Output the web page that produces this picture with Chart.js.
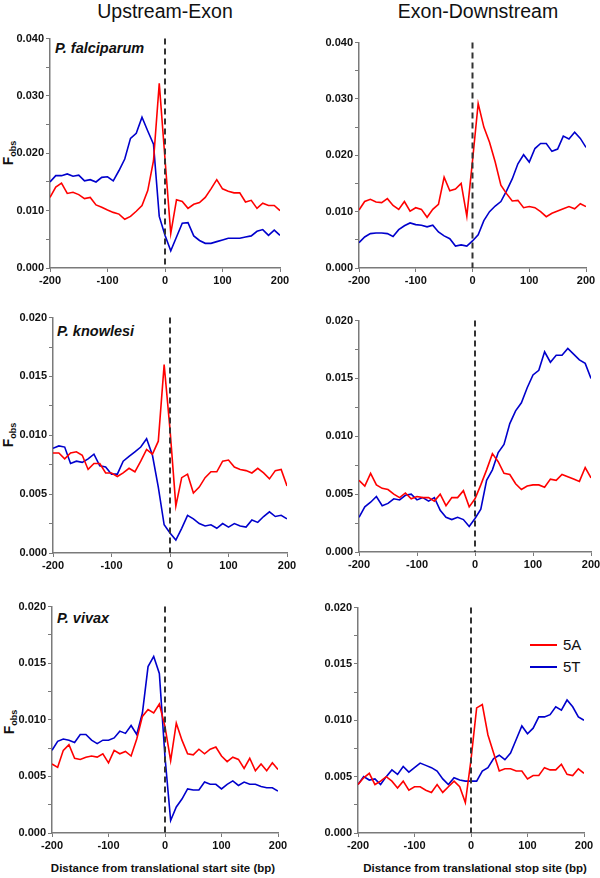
<!DOCTYPE html>
<html>
<head>
<meta charset="utf-8">
<script src="https://cdn.jsdelivr.net/npm/chart.js@4"></script>
<style>
  body { margin: 0; background: #fff; font-family: "Liberation Sans", Arial, sans-serif; }
  #wrap { position: relative; width: 600px; height: 878px; overflow: hidden; }
  canvas { position: absolute; }
  .t { position: absolute; white-space: nowrap; color: #111; }
  .title { font-size: 19.5px; transform: translateX(-50%); }
  .sp { font-size: 14.5px; font-weight: bold; font-style: italic; }
  .xl { font-size: 11.5px; font-weight: bold; transform: translateX(-50%); }
  .fobs { font-size: 14px; font-weight: bold; line-height: 12px; transform: translate(-50%, -50%) rotate(-90deg); }
  .fobs sub { font-size: 9px; vertical-align: -3px; line-height: 0; }
  .lg { font-size: 15px; }
  .lgline { position: absolute; height: 2px; width: 27px; }
</style>
</head>
<body>
<div id="wrap">
  <div class="t title" style="left:165px; top:0px;">Upstream-Exon</div>
  <div class="t title" style="left:478px; top:0px;">Exon-Downstream</div>

  <div class="t sp" style="left:55px; top:40px;">P. falciparum</div>
  <div class="t sp" style="left:57px; top:323px;">P. knowlesi</div>
  <div class="t sp" style="left:57px; top:610px;">P. vivax</div>

  <div class="t fobs" style="left:8px; top:153px;">F<sub>obs</sub></div>
  <div class="t fobs" style="left:8px; top:435px;">F<sub>obs</sub></div>
  <div class="t fobs" style="left:9px; top:722px;">F<sub>obs</sub></div>

  <div class="t xl" style="left:163px; top:862px;">Distance from translational start site (bp)</div>
  <div class="t xl" style="left:475px; top:862px;">Distance from translational stop site (bp)</div>

  <div class="lgline" style="left:530px; top:644px; background:#ff0000;"></div>
  <div class="t lg" style="left:563px; top:636px;">5A</div>
  <div class="lgline" style="left:530px; top:666px; background:#0000cc;"></div>
  <div class="t lg" style="left:563px; top:658px;">5T</div>

  <canvas id="c1"></canvas>
  <canvas id="c2"></canvas>
  <canvas id="c3"></canvas>
  <canvas id="c4"></canvas>
  <canvas id="c5"></canvas>
  <canvas id="c6"></canvas>
</div>

<script>
// positions (bp) -200..200 every 10
const positions = [-200,-190,-180,-170,-160,-150,-140,-130,-120,-110,-100,-90,-80,-70,-60,-50,-40,-30,-20,-10,
  0,10,20,30,40,50,60,70,80,90,100,110,120,130,140,150,160,170,180,190,200];

// P. falciparum, upstream-exon
const falcUp5A = [0.0123,0.0141,0.0148,0.0130,0.0132,0.0128,0.0121,0.0123,0.0110,0.0106,0.0101,0.0097,0.0094,0.0085,0.0090,0.0099,0.0109,0.0135,0.0187,0.0322,
  0.0190,0.0060,0.0119,0.0116,0.0104,0.0111,0.0114,0.0123,0.0138,0.0154,0.0138,0.0134,0.0131,0.0131,0.0115,0.0118,0.0104,0.0113,0.0109,0.0109,0.0100];
const falcUp5T = [0.0150,0.0161,0.0161,0.0164,0.0160,0.0162,0.0152,0.0154,0.0150,0.0158,0.0159,0.0152,0.0170,0.0190,0.0226,0.0235,0.0263,0.0239,0.0216,0.0090,
  0.0057,0.0030,0.0054,0.0078,0.0079,0.0056,0.0048,0.0043,0.0043,0.0046,0.0049,0.0052,0.0052,0.0052,0.0054,0.0056,0.0064,0.0067,0.0057,0.0066,0.0057];
// P. falciparum, exon-downstream
const falcDown5A = [0.0103,0.0118,0.0122,0.0117,0.0116,0.0123,0.0111,0.0104,0.0118,0.0101,0.0107,0.0104,0.0090,0.0104,0.0113,0.0161,0.0137,0.0140,0.0150,0.0092,
  0.0190,0.0292,0.0250,0.0223,0.0188,0.0147,0.0132,0.0119,0.0120,0.0107,0.0109,0.0107,0.0100,0.0091,0.0097,0.0101,0.0105,0.0109,0.0105,0.0114,0.0109];
const falcDown5T = [0.0045,0.0055,0.0061,0.0062,0.0062,0.0061,0.0056,0.0068,0.0075,0.0080,0.0077,0.0076,0.0073,0.0076,0.0064,0.0057,0.0052,0.0039,0.0041,0.0039,
  0.0048,0.0059,0.0084,0.0100,0.0110,0.0118,0.0137,0.0158,0.0185,0.0201,0.0188,0.0212,0.0221,0.0221,0.0207,0.0211,0.0234,0.0229,0.0241,0.0230,0.0214];

// P. knowlesi, upstream-exon
const knowUp5A = [0.0085,0.0085,0.0080,0.0085,0.0086,0.0083,0.0071,0.0076,0.0076,0.0068,0.0068,0.0065,0.0068,0.0072,0.0069,0.0078,0.0088,0.0084,0.0095,0.0160,
  0.0105,0.0040,0.0064,0.0067,0.0051,0.0056,0.0064,0.0069,0.0069,0.0078,0.0079,0.0073,0.0071,0.0070,0.0068,0.0072,0.0068,0.0063,0.0070,0.0071,0.0057];
const knowUp5T = [0.0089,0.0091,0.0090,0.0076,0.0078,0.0077,0.0080,0.0084,0.0074,0.0073,0.0067,0.0067,0.0078,0.0082,0.0086,0.0090,0.0097,0.0083,0.0056,0.0024,
  0.0017,0.0011,0.0021,0.0032,0.0029,0.0025,0.0023,0.0024,0.0021,0.0025,0.0022,0.0025,0.0023,0.0022,0.0028,0.0026,0.0031,0.0035,0.0031,0.0032,0.0029];
// P. knowlesi, exon-downstream
const knowDown5A = [0.0062,0.0057,0.0068,0.0058,0.0055,0.0054,0.0050,0.0047,0.0051,0.0046,0.0048,0.0047,0.0047,0.0044,0.0050,0.0040,0.0047,0.0047,0.0053,0.0039,
  0.0046,0.0058,0.0071,0.0085,0.0078,0.0068,0.0067,0.0059,0.0054,0.0057,0.0058,0.0058,0.0056,0.0063,0.0062,0.0067,0.0065,0.0063,0.0061,0.0073,0.0064];
const knowDown5T = [0.0030,0.0039,0.0043,0.0048,0.0040,0.0042,0.0046,0.0045,0.0049,0.0050,0.0045,0.0047,0.0044,0.0047,0.0036,0.0030,0.0028,0.0030,0.0028,0.0022,
  0.0029,0.0037,0.0062,0.0071,0.0086,0.0093,0.0111,0.0122,0.0129,0.0142,0.0153,0.0157,0.0173,0.0164,0.0170,0.0170,0.0176,0.0171,0.0166,0.0163,0.0150];

// P. vivax, upstream-exon
const vivUp5A = [0.0061,0.0058,0.0073,0.0078,0.0066,0.0065,0.0067,0.0068,0.0067,0.0070,0.0062,0.0073,0.0070,0.0072,0.0068,0.0083,0.0103,0.0109,0.0106,0.0114,
  0.0094,0.0064,0.0097,0.0082,0.0070,0.0069,0.0074,0.0070,0.0074,0.0076,0.0068,0.0063,0.0067,0.0065,0.0057,0.0066,0.0055,0.0061,0.0055,0.0062,0.0056];
const vivUp5T = [0.0073,0.0081,0.0083,0.0082,0.0080,0.0087,0.0087,0.0082,0.0079,0.0082,0.0082,0.0084,0.0090,0.0088,0.0095,0.0087,0.0106,0.0147,0.0156,0.0141,
  0.0067,0.0011,0.0023,0.0030,0.0039,0.0038,0.0038,0.0045,0.0043,0.0043,0.0039,0.0043,0.0046,0.0042,0.0045,0.0043,0.0043,0.0041,0.0040,0.0040,0.0037];
// P. vivax, exon-downstream
const vivDown5A = [0.0043,0.0049,0.0053,0.0043,0.0046,0.0050,0.0046,0.0040,0.0046,0.0038,0.0041,0.0041,0.0038,0.0036,0.0043,0.0036,0.0041,0.0046,0.0041,0.0027,
  0.0065,0.0111,0.0114,0.0087,0.0071,0.0055,0.0057,0.0057,0.0055,0.0055,0.0048,0.0051,0.0051,0.0058,0.0056,0.0056,0.0061,0.0052,0.0051,0.0057,0.0053];
const vivDown5T = [0.0043,0.0050,0.0047,0.0048,0.0043,0.0050,0.0056,0.0052,0.0059,0.0054,0.0058,0.0062,0.0060,0.0058,0.0055,0.0048,0.0043,0.0049,0.0047,0.0046,
  0.0046,0.0046,0.0055,0.0058,0.0066,0.0069,0.0065,0.0071,0.0083,0.0095,0.0088,0.0093,0.0103,0.0103,0.0105,0.0112,0.0109,0.0118,0.0112,0.0103,0.0100];

const RED = '#ff0000';
const BLUE = '#0000cc';
const AXIS = '#7a7a7a';

// dashed vertical line at position 0
const zeroLine = {
  id: 'zeroLine',
  afterDatasetsDraw(chart) {
    const { ctx, chartArea, scales } = chart;
    const x = scales.x.getPixelForValue(0);
    ctx.save();
    ctx.strokeStyle = '#333';
    ctx.lineWidth = 2;
    ctx.setLineDash([6, 4]);
    ctx.beginPath();
    ctx.moveTo(x, chartArea.top);
    ctx.lineTo(x, chartArea.bottom);
    ctx.stroke();
    ctx.restore();
  }
};

function toXY(vals) {
  return vals.map((v, i) => ({ x: positions[i], y: v }));
}

// plot area: [left, top, right, bottom] in page pixels
function panel(id, area, yMax, yMajor, redVals, blueVals) {
  const [l, t, r, b] = area;
  const yw = 50, xh = 24, padT = 8, padR = 16;
  const el = document.getElementById(id);
  el.style.left = (l - yw) + 'px';
  el.style.top = (t - padT) + 'px';
  el.style.width = (r - l + yw + padR) + 'px';
  el.style.height = (b - t + padT + xh) + 'px';
  el.width = r - l + yw + padR;
  el.height = b - t + padT + xh;

  const tickFont = { family: '"Liberation Sans", Arial, sans-serif', size: 11, weight: 'bold' };

  new Chart(el, {
    type: 'line',
    data: {
      datasets: [
        { label: '5A', data: toXY(redVals), borderColor: RED, borderWidth: 1.6, pointRadius: 0, tension: 0 },
        { label: '5T', data: toXY(blueVals), borderColor: BLUE, borderWidth: 1.6, pointRadius: 0, tension: 0 }
      ]
    },
    options: {
      responsive: false,
      animation: false,
      events: [],
      layout: { padding: { top: padT, right: padR, left: 0, bottom: 0 } },
      plugins: { legend: { display: false }, tooltip: { enabled: false } },
      scales: {
        x: {
          type: 'linear',
          min: -200, max: 200,
          afterFit: s => { s.height = xh; },
          grid: { drawOnChartArea: false, drawTicks: true, tickLength: 4, color: AXIS },
          border: { color: AXIS, width: 1.5 },
          ticks: { stepSize: 100, padding: 2, color: '#111', font: tickFont, autoSkip: false, maxRotation: 0 }
        },
        y: {
          min: 0, max: yMax,
          afterFit: s => { s.width = yw; },
          grid: { drawOnChartArea: false, drawTicks: true, tickLength: 4, color: AXIS },
          border: { color: AXIS, width: 1.5 },
          ticks: {
            stepSize: yMajor / 2, padding: 2, color: '#111', font: tickFont, autoSkip: false,
            callback: v => {
              const k = v / yMajor;
              return Math.abs(k - Math.round(k)) < 1e-6 ? v.toFixed(3) : '';
            }
          }
        }
      }
    },
    plugins: [zeroLine]
  });
}

panel('c1', [50, 38, 280, 268], 0.040, 0.010, falcUp5A, falcUp5T);
panel('c2', [359, 42, 586, 268], 0.040, 0.010, falcDown5A, falcDown5T);
panel('c3', [53, 317, 287, 553], 0.020, 0.005, knowUp5A, knowUp5T);
panel('c4', [359, 320, 591, 552], 0.020, 0.005, knowDown5A, knowDown5T);
panel('c5', [52, 606, 278, 833], 0.020, 0.005, vivUp5A, vivUp5T);
panel('c6', [358, 607, 584, 833], 0.020, 0.005, vivDown5A, vivDown5T);
</script>
</body>
</html>
